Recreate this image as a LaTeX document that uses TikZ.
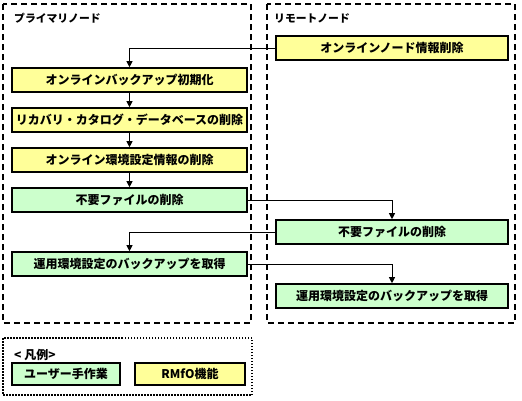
\documentclass[tikz,border=0pt]{standalone}
\usepackage{fontspec}
\newfontfamily\jpfont{Noto Sans CJK JP}
\usetikzlibrary{arrows.meta}
\definecolor{rmfoyellow}{HTML}{FFFF99}
\definecolor{usergreen}{HTML}{CCFFCC}
\tikzset{
  stepbase/.style={draw=black, line width=1.6pt, minimum height=24pt, inner sep=0pt, font=\jpfont\bfseries\fontsize{12}{13}\selectfont},
  rmfobox/.style={stepbase, fill=rmfoyellow},
  userbox/.style={stepbase, fill=usergreen},
  nodearea/.style={line width=1.5pt, dash pattern=on 6pt off 4pt},
  legendarea/.style={line width=1.5pt, dash pattern=on 1.5pt off 1.5pt},
  flow/.style={line width=0.9pt, -{Triangle[length=6pt, width=6pt]}},
  areatitle/.style={anchor=west, inner sep=0pt, font=\jpfont\bfseries\fontsize{10.8}{12}\selectfont}
}
\begin{document}
\begin{tikzpicture}[x=1pt, y=-1pt]
\useasboundingbox (0,0) rectangle (522,400);

% Drawing node areas
\draw [nodearea] (3,4) rectangle (251,323);
\draw [nodearea] (267,4) rectangle (515,323);
\node [areatitle] (primarytitle) at (14,18) {プライマリノード};
\node [areatitle] (remotetitle) at (274,18) {リモートノード};

% Steps on the primary node
\node [rmfobox, minimum width=235pt] (init) at (129.5,80) {オンラインバックアップ初期化};
\node [rmfobox, minimum width=235pt] (catdel) at (129.5,120) {リカバリ・カタログ・データベースの削除};
\node [rmfobox, minimum width=235pt] (envdel) at (129.5,160) {オンライン環境設定情報の削除};
\node [userbox, minimum width=235pt] (filedelp) at (129.5,200) {不要ファイルの削除};
\node [userbox, minimum width=235pt] (backupp) at (129.5,264) {運用環境設定のバックアップを取得};

% Steps on the remote node
\node [rmfobox, minimum width=232pt] (nodedel) at (392,48) {オンラインノード情報削除};
\node [userbox, minimum width=232pt] (filedelr) at (392,232) {不要ファイルの削除};
\node [userbox, minimum width=232pt] (backupr) at (392,296) {運用環境設定のバックアップを取得};

% Drawing the flow
\draw [flow] (nodedel.west) -| (init.north);
\draw [flow] (init) -- (catdel);
\draw [flow] (catdel) -- (envdel);
\draw [flow] (envdel) -- (filedelp);
\draw [flow] (filedelp.east) -| (filedelr.north);
\draw [flow] (filedelr.west) -| (backupp.north);
\draw [flow] (backupp.east) -| (backupr.north);

% Legend
\draw [legendarea] (3,338) rectangle (252,395);
\node [areatitle, font=\jpfont\bfseries\fontsize{12}{13}\selectfont] (legendtitle) at (14,355) {< 凡例>};
\node [userbox, minimum width=108pt, minimum height=22pt] (legenduser) at (66,374) {ユーザー手作業};
\node [rmfobox, minimum width=110pt, minimum height=22pt] (legendrmfo) at (190,374) {RMfO機能};
\end{tikzpicture}
\end{document}
